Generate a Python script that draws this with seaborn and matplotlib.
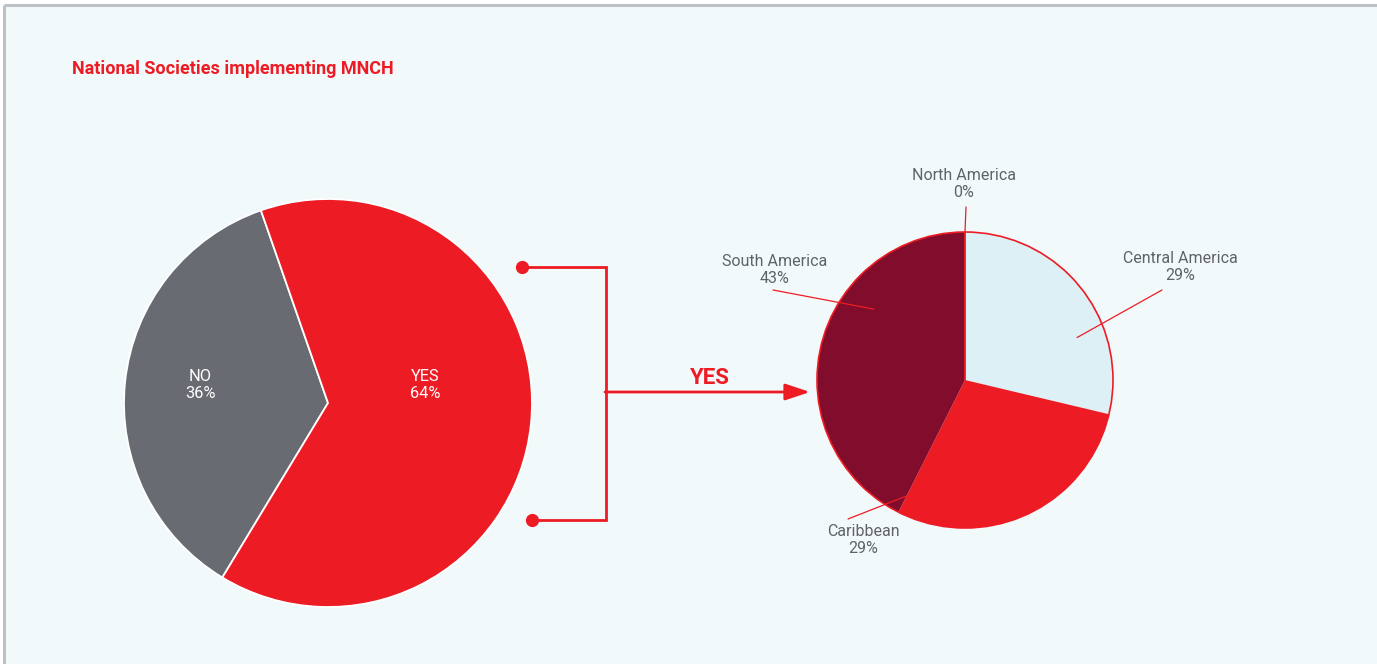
import numpy as np
import matplotlib
matplotlib.use("Agg")
import matplotlib.pyplot as plt
import seaborn as sns
from matplotlib.patches import Rectangle, Circle

# ---- data -------------------------------------------------------------
main_labels = ["NO", "YES"]
main_values = [36, 64]

region_labels = ["North America", "Central America", "Caribbean", "South America"]
region_values = [0, 29, 29, 43]

title = "National Societies implementing MNCH"
branch_label = "YES"

# ---- style ------------------------------------------------------------
sns.set_theme(style="white")
plt.rcParams["font.family"] = ["Roboto", "DejaVu Sans"]

RED = "#ed1c24"
GREY = "#686b71"
DARK_RED = "#820c2b"
PALE = "#ddf0f6"
BG = "#f2f9fb"
TEXT_GREY = "#5f6268"
BORDER = "#bcc1c6"

W, H = 1377, 664
fig = plt.figure(figsize=(W / 100, H / 100), dpi=100, facecolor="white")
ax = fig.add_axes([0, 0, 1, 1])


def Y(py):
    """Convert a top-down pixel row into the axis' bottom-up coordinate."""
    return H - py


# panel background and its grey frame (top and left)
ax.add_patch(Rectangle((4, 0), W - 4, Y(5), facecolor=BG, edgecolor="none", zorder=0))
ax.plot([4, W + 5], [Y(5), Y(5)], color=BORDER, lw=2.2, solid_capstyle="butt", zorder=1)
ax.plot([4, 4], [0, Y(5)], color=BORDER, lw=2.2, solid_capstyle="butt", zorder=1)

ax.text(72, Y(69), title, color=RED, fontsize=13, fontweight="bold",
        ha="left", va="center")

# ---- main pie ---------------------------------------------------------
c1 = (328, Y(403))
r1 = 204
no_span = 360 * main_values[0] / sum(main_values)
w1, _ = ax.pie(main_values, colors=[GREY, RED], center=c1, radius=r1,
               startangle=174 - no_span / 2, counterclock=True,
               wedgeprops=dict(edgecolor="white", linewidth=1.3),
               frame=True)

main_label_pos = [(200, 385), (425, 385)]
for lab, val, (tx, ty) in zip(main_labels, main_values, main_label_pos):
    ax.text(tx, Y(ty), f"{lab}\n{val}%", color="white", fontsize=11.8,
            ha="center", va="center", linespacing=1.15)

# ---- bracket + arrow --------------------------------------------------
lw_c = 2.0
ax.plot([522, 606, 606, 532], [Y(267), Y(267), Y(520), Y(520)],
        color=RED, lw=lw_c, solid_joinstyle="miter", zorder=3)
ax.plot([522, 532], [Y(267), Y(520)], "o", color=RED, markersize=8.5, zorder=4)
ax.annotate("", xy=(810, Y(392)), xytext=(605, Y(392)),
            arrowprops=dict(arrowstyle="-|>,head_length=0.6,head_width=0.2",
                            mutation_scale=25, lw=lw_c, color=RED,
                            shrinkA=0, shrinkB=0))
ax.text(710, Y(378), branch_label, color=RED, fontsize=16, fontweight="bold",
        ha="center", va="center")

# ---- regional pie -----------------------------------------------------
c2 = (965, Y(380))
r2 = 148
w2, _ = ax.pie(region_values, colors=[RED, PALE, RED, DARK_RED], center=c2,
               radius=r2, startangle=90, counterclock=False,
               wedgeprops=dict(edgecolor="none", linewidth=0), frame=True)
# the empty slice still marks its boundary with a thin red spoke
w2[0].set_edgecolor(RED)
w2[0].set_linewidth(1.3)
w2[0].set_zorder(3)
ax.add_patch(Circle(c2, r2, facecolor="none", edgecolor=RED, lw=1.2, zorder=3))

# label anchor (text centre) and leader-line start for each region
label_pos = [(964, 184), (1180, 267), (863, 540), (775, 270)]
leader_start = [(966, 207), (1162, 290), (848, 519), (773, 290)]
leader_depth = [1.0, 0.81, 0.8, 0.78]
leader_frac = [0.5, 0.33, 0.05, 0.34]

for w, lab, val, (tx, ty), (sx, sy), d, f in zip(
        w2, region_labels, region_values, label_pos, leader_start,
        leader_depth, leader_frac):
    t1, t2 = sorted([w.theta1, w.theta2])
    ang = np.deg2rad(t1 + f * (t2 - t1))
    ex = c2[0] + d * r2 * np.cos(ang)
    ey = c2[1] + d * r2 * np.sin(ang)
    ax.plot([sx, ex], [Y(sy), ey], color=RED, lw=0.9, zorder=4)
    ax.text(tx, Y(ty), f"{lab}\n{val}%", color=TEXT_GREY, fontsize=11.5,
            ha="center", va="center", linespacing=1.2)

ax.set_xlim(0, W)
ax.set_ylim(0, H)
ax.set_aspect("equal")
ax.axis("off")

fig.savefig("out.png", dpi=100, facecolor="white")
